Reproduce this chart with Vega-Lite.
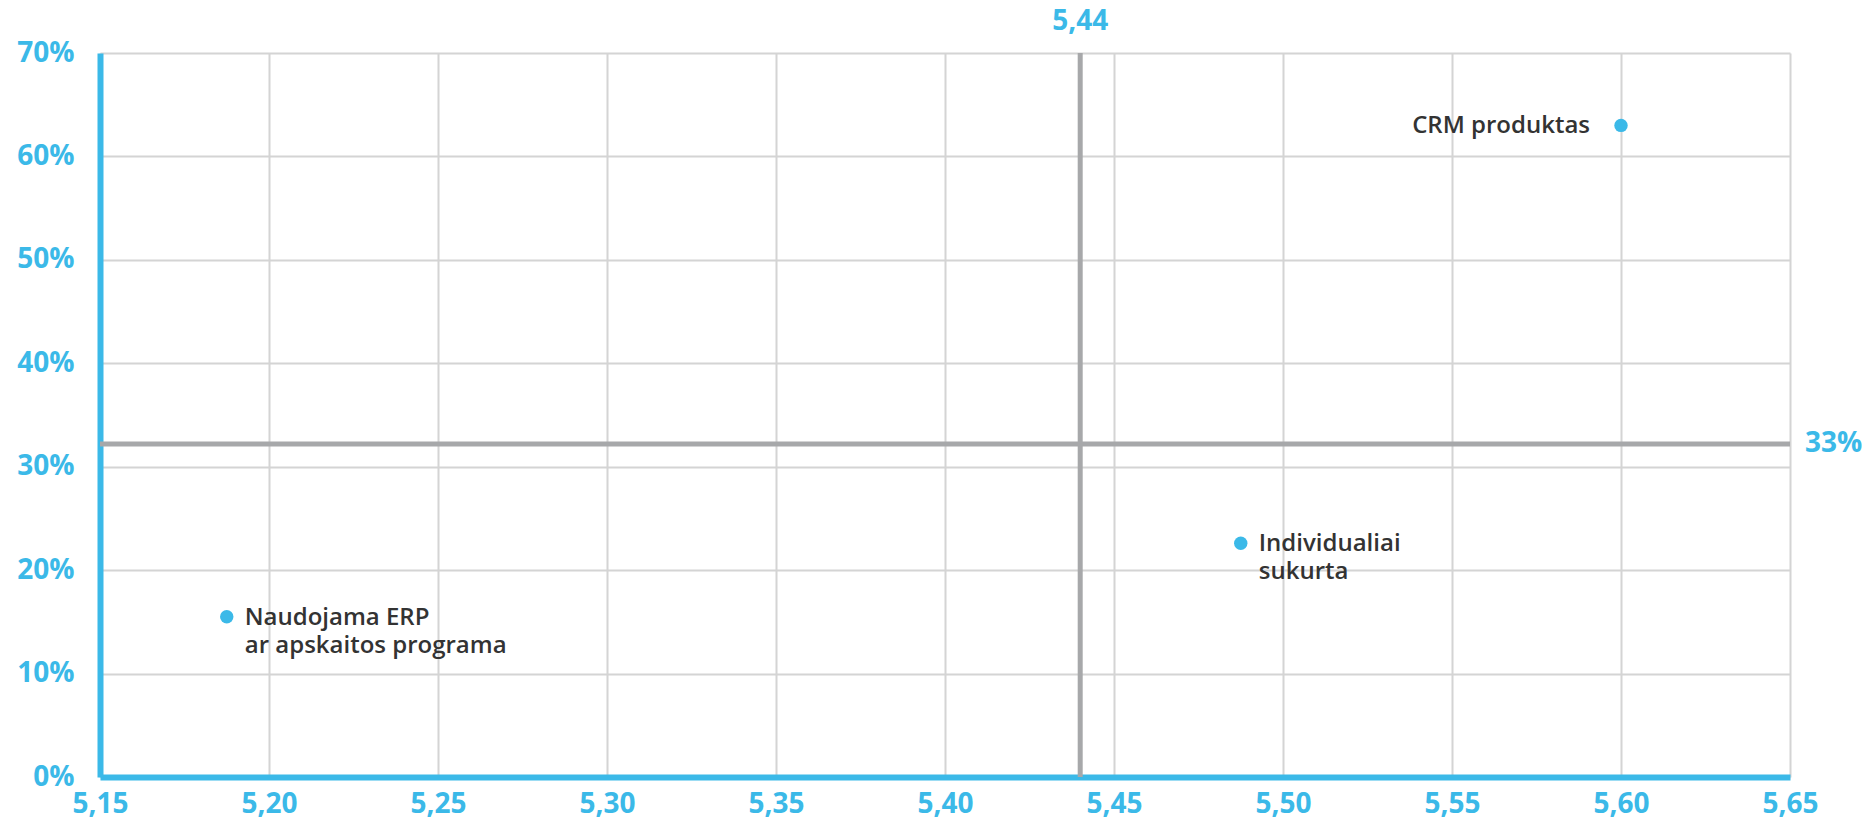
{
  "$schema": "https://vega.github.io/schema/vega-lite/v6.json",
  "width": 1690,
  "height": 724,
  "autosize": {"type": "none"},
  "padding": {"left": 100, "top": 53, "right": 80, "bottom": 45},
  "background": "white",
  "config": {
    "view": {"stroke": null},
    "font": "Open Sans",
    "axis": {
      "grid": true,
      "gridColor": "#D4D4D4",
      "gridWidth": 2,
      "domainColor": "#3BB9E8",
      "domainWidth": 6,
      "ticks": false,
      "tickSize": 0,
      "labelFont": "Open Sans",
      "labelFontSize": 28,
      "labelFontWeight": "bold",
      "labelColor": "#3BB9E8",
      "labelFlush": false,
      "labelOverlap": false,
      "title": null
    }
  },
  "layer": [
    {
      "data": {"values": [{"score": 5.44}]},
      "mark": {"type": "rule", "color": "#A7A8AA", "strokeWidth": 5},
      "encoding": {
        "x": {
          "field": "score",
          "type": "quantitative",
          "title": null,
          "scale": {"domain": [5.15, 5.65], "nice": false, "zero": false},
          "axis": {
            "values": [5.15, 5.2, 5.25, 5.3, 5.35, 5.4, 5.45, 5.5, 5.55, 5.6, 5.65],
            "labelExpr": "replace(format(datum.value, '.2f'), '.', ',')",
            "labelPadding": 13
          }
        }
      }
    },
    {
      "data": {"values": [{"share": 32.2}]},
      "mark": {"type": "rule", "color": "#A7A8AA", "strokeWidth": 5},
      "encoding": {
        "y": {
          "field": "share",
          "type": "quantitative",
          "title": null,
          "scale": {"domain": [0, 70], "nice": false, "zero": true},
          "axis": {
            "values": [0, 10, 20, 30, 40, 50, 60, 70],
            "labelExpr": "datum.value + '%'",
            "labelPadding": 26
          }
        }
      }
    },
    {
      "data": {"values": [
        {"label": "CRM produktas", "score": 5.60, "share": 63.0},
        {"label": "Individualiai\nsukurta", "score": 5.4875, "share": 22.6},
        {"label": "Naudojama ERP\nar apskaitos programa", "score": 5.1875, "share": 15.5}
      ]},
      "mark": {"type": "circle", "size": 180, "color": "#3BB9E8", "opacity": 1},
      "encoding": {
        "x": {"field": "score", "type": "quantitative", "title": null},
        "y": {"field": "share", "type": "quantitative", "title": null}
      }
    },
    {
      "data": {"values": [
        {"label": "Individualiai\nsukurta", "score": 5.4875, "share": 22.6},
        {"label": "Naudojama ERP\nar apskaitos programa", "score": 5.1875, "share": 15.5}
      ]},
      "mark": {"type": "text", "align": "left", "baseline": "alphabetic", "dx": 18, "dy": 8, "fontSize": 24, "fontWeight": 600, "color": "#333333", "lineBreak": "\n", "lineHeight": 28},
      "encoding": {
        "x": {"field": "score", "type": "quantitative", "title": null},
        "y": {"field": "share", "type": "quantitative", "title": null},
        "text": {"field": "label", "type": "nominal"}
      }
    },
    {
      "data": {"values": [
        {"label": "CRM produktas", "score": 5.60, "share": 63.0}
      ]},
      "mark": {"type": "text", "align": "right", "baseline": "alphabetic", "dx": -31, "dy": 8, "fontSize": 24, "fontWeight": 600, "color": "#333333"},
      "encoding": {
        "x": {"field": "score", "type": "quantitative", "title": null},
        "y": {"field": "share", "type": "quantitative", "title": null},
        "text": {"field": "label", "type": "nominal"}
      }
    },
    {
      "data": {"values": [{"label": "5,44", "score": 5.44, "share": 70}]},
      "mark": {"type": "text", "align": "center", "baseline": "middle", "dy": -31, "fontSize": 28, "fontWeight": "bold", "color": "#3BB9E8"},
      "encoding": {
        "x": {"field": "score", "type": "quantitative", "title": null},
        "y": {"field": "share", "type": "quantitative", "title": null},
        "text": {"field": "label", "type": "nominal"}
      }
    },
    {
      "data": {"values": [{"label": "33%", "score": 5.65, "share": 32.2}]},
      "mark": {"type": "text", "align": "left", "baseline": "middle", "dx": 15, "fontSize": 28, "fontWeight": "bold", "color": "#3BB9E8"},
      "encoding": {
        "x": {"field": "score", "type": "quantitative", "title": null},
        "y": {"field": "share", "type": "quantitative", "title": null},
        "text": {"field": "label", "type": "nominal"}
      }
    }
  ]
}
